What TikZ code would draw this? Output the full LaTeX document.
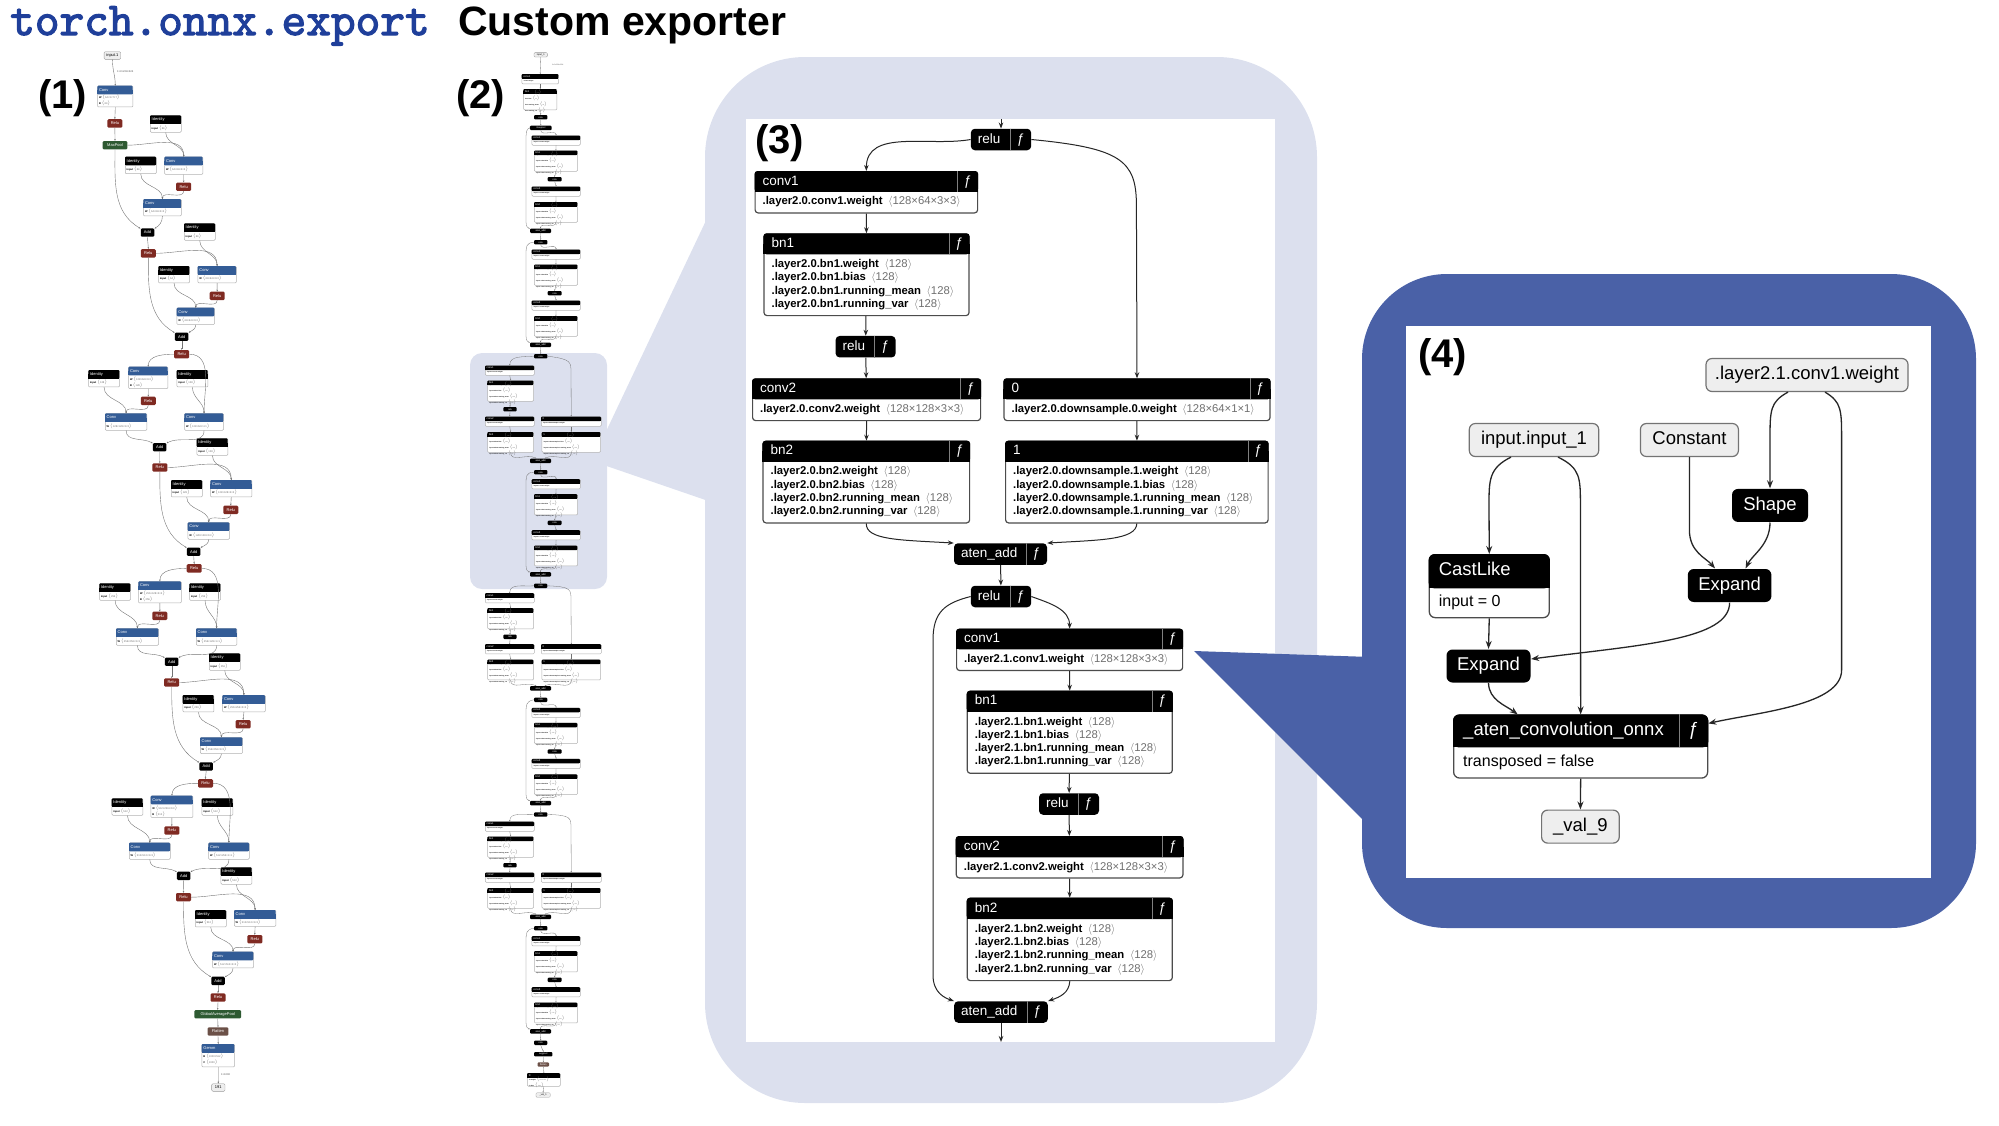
\documentclass[tikz,border=0pt]{standalone}
\usepackage{fontspec}
\setmainfont{Liberation Sans}
\newfontfamily\titlemono{lmmono10-regular.otf}[AutoFakeBold=2.5]
\usetikzlibrary{arrows.meta}
\definecolor{titleblue}{HTML}{1F3F9A}
\definecolor{callout}{HTML}{DCE0EE}
\definecolor{calloutblue}{HTML}{4A61A7}
\definecolor{onnxconv}{HTML}{335C96}
\definecolor{onnxrelu}{HTML}{7F2A22}
\definecolor{onnxpool}{HTML}{2E5A32}
\definecolor{onnxflat}{HTML}{6B5047}
\definecolor{shapegray}{HTML}{707070}
\definecolor{ingray}{HTML}{EEEEEE}
\newcommand{\shp}[1]{{\color{shapegray}\mdseries$\langle$#1$\rangle$}}
\newcommand{\wline}[2]{\textbf{#1}\enspace\shp{#2}}
\newcommand{\bnlines}[2]{\wline{#1.weight}{#2}\\\wline{#1.bias}{#2}\\\wline{#1.running\_mean}{#2}\\\wline{#1.running\_var}{#2}}
\def\hdrh{8.6}
\def\padx{8}
\def\hround{3pt}
% netron module: name, x, y, width, header h, body h, title, body
\newcommand{\netmod}[8]{%
  \node[modbody, minimum width=#4, minimum height=#5+#6, anchor=north west] (#1) at (#2,#3) {};
  \fill[black, rounded corners=\hround] (#1.north west) rectangle ([yshift=-#5]#1.north east);
  \fill[black] ([yshift=-#5/2]#1.north west) rectangle ([yshift=-#5]#1.north east);
  \node[modtitle, anchor=west] at ([xshift=\padx, yshift=-#5/2]#1.north west) {#7};
  \node[modtext, anchor=west] at ([xshift=\padx, yshift=-#5-#6/2]#1.north west) {#8};
}
% function cell: name, header h, cell width
\newcommand{\netfn}[3]{%
  \draw[fnline] ([xshift=-#3]#1.north east) -- ([xshift=-#3, yshift=-#2]#1.north east);
  \node[modtitle] at ([xshift=-#3/2, yshift=-#2/2]#1.north east) {ƒ};
}
% black op with function cell: name, x, y, width, title
\newcommand{\netop}[5]{%
  \node[opbox, minimum width=#4] (#1) at (#2,#3) {};
  \node[modtitle, anchor=west] at ([xshift=7]#1.west) {#5};
  \draw[fnline] ([xshift=-21]#1.north east) -- ([xshift=-21]#1.south east);
  \node[modtitle] at ([xshift=-10.5]#1.east) {ƒ};
}
% thumbnail node: name, x1, y1, x2, y2, header colour, title, body
\newcommand{\tnode}[8]{%
  \node[tbody, minimum width={(#4)-(#2)}, minimum height={(#5)-(#3)}, anchor=north west] (#1) at ({#2},{#3}) {};
  \fill[#6, rounded corners=1pt] ({#2},{#3}) rectangle ({#4},{#3+\hdrh});
  \fill[#6] ({#2},{#3+\hdrh/2}) rectangle ({#4},{#3+\hdrh});
  \node[ttitle, anchor=west] at ({#2+1.5},{#3+\hdrh/2}) {#7};
  \node[ttext, anchor=west] at ({#2+1.5},{(#3+\hdrh+#5)/2}) {#8};
}
% plain residual block of the custom graph: prev, prefix, top, layer, channels
\newcommand{\idblock}[5]{%
  \tnode{#2c1}{531.7}{#3+9.5}{580}{#3+19}{black}{conv1}{\textbf{.#4.conv1.weight}}
  \tnode{#2b1}{534}{#3+24.5}{577.3}{#3+45}{black}{bn1}{\bnlines{.#4.bn1}{#5}}
  \node[ppill, minimum width=14] (#2r) at (554.7,{#3+53.2}) {relu};
  \tnode{#2c2}{531.7}{#3+60.5}{580}{#3+70}{black}{conv2}{\textbf{.#4.conv2.weight}}
  \tnode{#2b2}{534}{#3+76}{577.3}{#3+96}{black}{bn2}{\bnlines{.#4.bn2}{#5}}
  \node[ppill, minimum width=21] (#2a) at (540.5,{#3+104.8}) {aten\_add};
  \node[ppill, minimum width=13.3] (#2o) at (540.7,{#3+116.2}) {relu};
  \foreach \p/\q in {#1/#2c1, #2c1/#2b1, #2b1/#2r, #2r/#2c2, #2c2/#2b2, #2b2/#2a, #2a/#2o}
    \draw[pedge] (\p) to[out=-90,in=90] (\q);
  \draw[pedge] (#1.west) .. controls (526,{#3+3}) and (526,{#3+6}) .. (526,{#3+16}) -- (526,{#3+96}) .. controls (526,{#3+101}) and (528,{#3+102}) .. (#2a.north west);
}
% downsample block of the custom graph: prev, prefix, top, layer, channels
\newcommand{\dsblock}[5]{%
  \tnode{#2c1}{485}{#3+9.5}{534}{#3+19}{black}{conv1}{\textbf{.#4.conv1.weight}}
  \tnode{#2b1}{487.3}{#3+24.5}{533.3}{#3+45}{black}{bn1}{\bnlines{.#4.bn1}{#5}}
  \node[ppill, minimum width=13.4] (#2r) at (510,{#3+53.2}) {relu};
  \tnode{#2c2}{485}{#3+60.5}{534}{#3+70}{black}{conv2}{\textbf{.#4.conv2.weight}}
  \tnode{#2b2}{487.3}{#3+76}{533.3}{#3+96}{black}{bn2}{\bnlines{.#4.bn2}{#5}}
  \tnode{#2d0}{541}{#3+60.5}{601}{#3+70}{black}{0}{\textbf{.#4.downsample.0.weight}}
  \tnode{#2d1}{541.7}{#3+76}{600.3}{#3+96}{black}{1}{\bnlines{.#4.downsample.1}{#5}}
  \node[ppill, minimum width=21] (#2a) at (540.5,{#3+104.8}) {aten\_add};
  \node[ppill, minimum width=13.3] (#2o) at (540.7,{#3+116.2}) {relu};
  \foreach \p/\q in {#2c1/#2b1, #2b1/#2r, #2r/#2c2, #2c2/#2b2, #2d0/#2d1, #2a/#2o}
    \draw[pedge] (\p) to[out=-90,in=90] (\q);
  \draw[pedge] (#1.west) to[out=185,in=90] (#2c1);
  \draw[pedge] (#1.east) .. controls (571,{#3+3}) and (571,{#3+6}) .. (571,{#3+16}) -- (#2d0.north);
  \draw[pedge] (#2b2) to[out=-90,in=150] (#2a);
  \draw[pedge] (#2d1) to[out=-90,in=30] (#2a);
}

\begin{document}
\begin{tikzpicture}[x=1pt, y=-1pt,
    arr/.style={draw=black!85, line width=1pt, -{Stealth[length=6pt,width=4.5pt]}},
    arrbig/.style={draw=black!85, line width=1.3pt, -{Stealth[length=8pt,width=6pt]}},
    tedge/.style={draw=black!55, line width=0.4pt, -{Stealth[length=1.8pt,width=1.5pt]}},
    pedge/.style={draw=black!55, line width=0.3pt, -{Stealth[length=1.3pt,width=1.1pt]}},
    modbody/.style={draw=black!70, line width=1.2pt, fill=white, rounded corners=3pt, inner sep=0pt},
    modtitle/.style={text=white, font=\fontsize{13.5}{13.5}\selectfont, inner sep=0pt, text height=9.5pt, text depth=2pt},
    modtext/.style={font=\fontsize{11.3}{13.3}\selectfont, align=left, inner sep=0pt},
    opbox/.style={fill=black, rounded corners=4pt, minimum height=21.5pt, inner sep=0pt},
    fnline/.style={draw=black!50, line width=0.8pt},
    tbody/.style={draw=black!30, line width=0.5pt, fill=white, rounded corners=1pt, inner sep=0pt},
    ttitle/.style={text=white, font=\fontsize{4}{4}\selectfont, inner sep=0pt, text height=3pt, text depth=0.8pt},
    ttext/.style={font=\fontsize{2.6}{3.4}\selectfont, align=left, inner sep=0pt},
    tpill/.style={rounded corners=1.2pt, minimum height=8.4pt, inner sep=0pt, text=white, font=\fontsize{4}{4}\selectfont},
    trelu/.style={tpill, fill=onnxrelu, minimum width=15pt},
    tadd/.style={tpill, fill=black, minimum width=13.5pt},
    tpool/.style={tpill, fill=onnxpool},
    tflat/.style={tpill, fill=onnxflat},
    tio/.style={tpill, fill=ingray, draw=black!40, line width=0.4pt, text=black, minimum height=7.6pt},
    ppill/.style={fill=black, rounded corners=1pt, minimum height=4.4pt, inner sep=0pt, text=white, font=\fontsize{2.4}{2.4}\selectfont},
    pio/.style={ppill, fill=ingray, draw=black!40, line width=0.3pt, text=black},
    elab/.style={font=\fontsize{2.6}{2.6}\selectfont, text=black!70, inner sep=0pt, anchor=west},
    plabel/.style={anchor=base west, inner sep=0pt, font=\bfseries\fontsize{40}{40}\selectfont},
    graypill/.style={draw=black!55, fill=ingray, rounded corners=6pt, line width=1.2pt, minimum height=33pt, inner sep=0pt, font=\fontsize{18.5}{18.5}\selectfont, text height=13.5pt, text depth=4pt},
    blackpill/.style={graypill, draw=none, fill=black, text=white}
  ]
  \useasboundingbox (0,0) rectangle (1999,1125);

  % callout (3) with its wedge, highlight in (2)
  \fill[callout] (592,461) -- (720,191) -- (720,505) -- cycle;
  \fill[callout, rounded corners=100pt] (705,57) rectangle (1317,1103);
  \fill[callout, rounded corners=12pt] (470,353) rectangle (607,589);
  \fill[white] (746,119) rectangle (1275,1042);

  % ---------- (1) torch.onnx.export graph ----------
  \node[tio, minimum width=16.7] (in1) at (112.4,55.5) {input.1};
  \node[elab] (lbin1) at (117,72) {1×3×224×224};
  \tnode{cv1}{97.3}{85.7}{132.7}{106.7}{onnxconv}{Conv}{\textbf{W}~\shp{64×3×7×7}\\\textbf{B}~\shp{64}}
  \node[tpool, minimum width=24.6] (mp) at (115,145.2) {MaxPool};
  \foreach \n/\x/\y in {r1/114.9/123.4, r2/183.7/186.7, r3/148.3/253.3, r4/217.2/295.9, r5/181.7/354.2,
      r6/148.3/400.9, r7/159.8/467.5, r8/230.8/509.9, r9/194.2/568.4, r10/159.8/615.9, r11/171.7/682.5,
      r12/243.2/724.2, r13/205.5/783.3, r14/171.8/830.5, r15/183.5/897.2, r16/254.8/939.2, r17/218/997.5}
    \node[trelu] (\n) at (\x,\y) {Relu};
  \foreach \n/\x/\y in {a1/147.5/232.5, a2/181.7/336.7, a3/159.7/447.2, a4/193.7/551.7,
      a5/171.7/661.7, a6/206.2/766.5, a7/183.7/875.9, a8/218/980.9}
    \node[tadd] (\n) at (\x,\y) {Add};
  \foreach \n/\x/\y/\s in {id1/150/115.3/64, id2/125/156.7/64, id3/184/223.3/64, id4/158.3/266/64,
      id5/88.3/370/128, id6/176.7/370/128, id7/196.7/438.3/128, id8/171/480/128,
      id9/99.3/583.3/256, id10/189.3/583.3/256, id11/209/653.3/256, id12/182.7/695/256,
      id13/111.7/798.3/512, id14/201.7/798.3/512, id15/220.7/867.3/512, id16/195/910/512}
    \tnode{\n}{\x}{\y}{\x+31}{\y+16.7}{black}{Identity}{\textbf{input}~\shp{\s}};
  \foreach \n/\xa/\ya/\xb/\yb/\s in {cv2/164.3/156.7/202.7/174/64×64×3×3, cv3/143.3/199/181/215.7/64×64×3×3,
      cv4/197.7/266/236/282.7/64×64×3×3, cv5/176.7/307.7/214.3/324.3/64×64×3×3,
      cv7/105/413.3/146.7/430/128×128×3×3, cv8/184.3/413.3/223.3/430/128×64×1×1,
      cv9/210.3/480/251.7/496.7/128×128×3×3, cv10/187.7/522.3/229.3/539/128×128×3×3,
      cv12/116/628.3/158.3/645/256×256×3×3, cv13/196/628.3/236.7/645/256×128×1×1,
      cv14/222.3/695/265/711.7/256×256×3×3, cv15/200/737.3/242.3/753.3/256×256×3×3,
      cv17/129/842.7/170/859/512×512×3×3, cv18/208.3/842.7/249/859/512×256×1×1,
      cv19/234/910/275.7/926/512×512×3×3, cv20/212.3/951.7/253.3/967.7/512×512×3×3}
    \tnode{\n}{\xa}{\ya}{\xb}{\yb}{onnxconv}{Conv}{\textbf{W}~\shp{\s}};
  \tnode{cv6}{128.3}{366.7}{167.7}{388.3}{onnxconv}{Conv}{\textbf{W}~\shp{128×64×3×3}\\\textbf{B}~\shp{128}}
  \tnode{cv11}{138.3}{581.3}{181}{602.7}{onnxconv}{Conv}{\textbf{W}~\shp{256×128×3×3}\\\textbf{B}~\shp{256}}
  \tnode{cv16}{150.7}{795.7}{192.7}{817.3}{onnxconv}{Conv}{\textbf{W}~\shp{512×256×3×3}\\\textbf{B}~\shp{512}}
  \node[tpool, minimum width=46.7] (gap) at (217.7,1014.2) {GlobalAveragePool};
  \node[tflat, minimum width=20.6] (fl) at (218,1031.5) {Flatten};
  \tnode{gemm}{201.7}{1044}{234.3}{1066.7}{onnxconv}{Gemm}{\textbf{B}~\shp{1000×512}\\\textbf{C}~\shp{1000}}
  \node[elab] (lbout1) at (221,1075) {1×1000};
  \node[tio, minimum width=13.3] (out1) at (218.3,1087.5) {191};
  \foreach \p/\q in {in1/cv1, cv1/r1, r1/mp, id1/cv2, cv2/r2, r2/cv3, id2/cv3, a1/r3, id3/cv4, cv4/r4,
      r4/cv5, id4/cv5, a2/r5, cv6/r6, r6/cv7, id5/cv7, id6/cv8, a3/r7, id7/cv9, cv9/r8, r8/cv10, id8/cv10,
      a4/r9, cv11/r10, r10/cv12, id9/cv12, id10/cv13, a5/r11, id11/cv14, cv14/r12, r12/cv15, id12/cv15,
      a6/r13, cv16/r14, r14/cv17, id13/cv17, id14/cv18, a7/r15, id15/cv19, cv19/r16, r16/cv20, id16/cv20,
      a8/r17, r17/gap, gap/fl, fl/gemm, gemm/out1}
    \draw[tedge] (\p) to[out=-90,in=90] (\q);
  \foreach \p/\q in {mp/cv2, r3/cv4, r5/cv8, r7/cv9, r9/cv13, r11/cv14, r13/cv18, r15/cv19}
    \draw[tedge] (\p) to[out=0,in=90] (\q);
  \foreach \p/\q in {r5/cv6, r9/cv11, r13/cv16}
    \draw[tedge] (\p) to[out=180,in=90] (\q);
  \foreach \p/\q in {mp/a1, r3/a2, cv7/a3, r7/a4, cv12/a5, r11/a6, cv17/a7, r15/a8}
    \draw[tedge] (\p) to[out=-90,in=150] (\q);
  \foreach \p/\q in {cv3/a1, cv5/a2, cv8/a3, cv10/a4, cv13/a5, cv15/a6, cv18/a7, cv20/a8}
    \draw[tedge] (\p) to[out=-90,in=30] (\q);

  % ---------- (2) custom exporter graph ----------
  \begin{scope}[ttitle/.style={text=white, font=\fontsize{2.6}{2.6}\selectfont, inner sep=0pt, text height=2pt, text depth=0.6pt},
      ttext/.style={font=\fontsize{1.5}{3.8}\selectfont, align=left, inner sep=0pt}]
    \def\hdrh{4.6}
    \node[pio, minimum width=13.3] (pin) at (540.7,54.8) {input\_1};
    \node[elab, font=\fontsize{1.8}{1.8}\selectfont] (lbpin) at (552,65) {1×3×224×224};
    \tnode{pc1}{521.7}{74}{558.3}{83.6}{black}{conv1}{\textbf{.conv1.weight}}
    \tnode{pb1}{523.3}{89}{556.7}{109.6}{black}{bn1}{\bnlines{.bn1}{64}}
    \node[ppill, minimum width=13.3] (pr1) at (540.7,117.2) {relu};
    \node[ppill, minimum width=21.7] (pmp) at (540.8,127.9) {maxpool};
    \foreach \p/\q in {pin/pc1, pc1/pb1, pb1/pr1, pr1/pmp}
      \draw[pedge] (\p) to[out=-90,in=90] (\q);
    \idblock{pmp}{pA}{126}{layer1.0}{64}
    \idblock{pAo}{pB}{240}{layer1.1}{64}
    \dsblock{pBo}{pC}{356}{layer2.0}{128}
    \idblock{pCo}{pD}{469.6}{layer2.1}{128}
    \dsblock{pDo}{pE}{583.6}{layer3.0}{256}
    \idblock{pEo}{pF}{698.3}{layer3.1}{256}
    \dsblock{pFo}{pG}{812}{layer4.0}{512}
    \idblock{pGo}{pH}{926.6}{layer4.1}{512}
    \node[ppill, minimum width=18.4] (pavg) at (543.2,1054.2) {avgpool};
    \node[ppill, fill=onnxflat, minimum width=11.4] (pfl) at (543.3,1064.5) {flatten};
    \tnode{pfc}{527.2}{1073}{560}{1086}{black}{fc}{\wline{.fc.weight}{1000×512}\\\wline{.fc.bias}{1000}}
    \node[pio, minimum width=14.4] (pout) at (543.1,1095) {\_val\_1};
    \foreach \p/\q in {pHo/pavg, pavg/pfl, pfl/pfc, pfc/pout}
      \draw[pedge] (\p) to[out=-90,in=90] (\q);
  \end{scope}

  % ---------- (3) detail of layer2 ----------
  \coordinate (in3) at (1001,119);
  \coordinate (out3) at (1001,1042);
  \netop{reluA}{1001}{139.5}{60.3}{relu}
  \netmod{convA}{754.5}{171}{222.5}{20.7}{20.6}{conv1}{\wline{.layer2.0.conv1.weight}{128×64×3×3}}
  \netfn{convA}{20.7}{20.7}
  \netmod{bnA}{763.4}{233.3}{205}{21}{60.7}{bn1}{\bnlines{.layer2.0.bn1}{128}}
  \netfn{bnA}{21}{20.7}
  \netop{reluB}{865.6}{346.7}{60}{relu}
  \netmod{convAA}{752}{378.3}{228}{21}{20.7}{conv2}{\wline{.layer2.0.conv2.weight}{128×128×3×3}}
  \netfn{convAA}{21}{20.7}
  \netmod{dsA}{1003.4}{378.3}{266}{21}{20.7}{0}{\wline{.layer2.0.downsample.0.weight}{128×64×1×1}}
  \netfn{dsA}{21}{20.7}
  \netmod{bnAA}{762.4}{440.7}{206.6}{21}{60.6}{bn2}{\bnlines{.layer2.0.bn2}{128}}
  \netfn{bnAA}{21}{20.7}
  \netmod{dsB}{1005}{440.7}{262.5}{21}{60.6}{1}{\bnlines{.layer2.0.downsample.1}{128}}
  \netfn{dsB}{21}{20.7}
  \netop{addA}{1000.5}{554}{93}{aten\_add}
  \netop{reluC}{1001}{596.5}{60.3}{relu}
  \netmod{convB}{956}{628.7}{226}{20.6}{20.6}{conv1}{\wline{.layer2.1.conv1.weight}{128×128×3×3}}
  \netfn{convB}{20.6}{20.7}
  \netmod{bnB}{966.7}{690.7}{205}{21}{61}{bn1}{\bnlines{.layer2.1.bn1}{128}}
  \netfn{bnB}{21}{20.7}
  \netop{reluD}{1069}{804}{60}{relu}
  \netmod{convBB}{955.7}{836}{226.6}{21.3}{20}{conv2}{\wline{.layer2.1.conv2.weight}{128×128×3×3}}
  \netfn{convBB}{21.3}{20.7}
  \netmod{bnBB}{966.7}{897.7}{205}{21.3}{61}{bn2}{\bnlines{.layer2.1.bn2}{128}}
  \netfn{bnBB}{21.3}{20.7}
  \netop{addB}{1001}{1012}{93.7}{aten\_add}

  \draw[arr] (in3) -- (reluA);
  \draw[arr] (reluA.west) to[out=190,in=90] (convA.north);
  \draw[arr] (reluA.east) .. controls (1120,148) and (1136.4,160) .. (1136.4,205) -- (dsA.north);
  \foreach \p/\q in {convA/bnA, bnA/reluB, reluB/convAA, convAA/bnAA, dsA/dsB, addA/reluC,
      convB/bnB, bnB/reluD, reluD/convBB, convBB/bnBB}
    \draw[arr] (\p) -- (\q);
  \draw[arr] (bnAA.south) .. controls (865.7,540) and (900,540) .. (addA.north west);
  \draw[arr] (dsB.south) .. controls (1136.2,540) and (1100,540) .. (addA.north east);
  \draw[arr] (reluC.east) to[out=-20,in=90] (convB.north);
  \draw[arr] (reluC.west) .. controls (945,603) and (933,612) .. (933,640) -- (933,975) .. controls (933,993) and (945,998) .. (addB.north west);
  \draw[arr] (bnBB.south) .. controls (1069,993) and (1060,997) .. (addB.north east);
  \draw[arr] (addB) -- (out3);

  % ---------- (4) detail of conv1 ----------
  \fill[calloutblue] (1194,651) -- (1400,658) -- (1400,857) -- cycle;
  \fill[calloutblue, rounded corners=85pt] (1362,274) rectangle (1976,928);
  \fill[white] (1406,325.6) rectangle (1931,877.7);
  \begin{scope}[modtitle/.style={text=white, font=\fontsize{18.5}{18.5}\selectfont, inner sep=0pt, text height=13.5pt, text depth=4pt},
      modtext/.style={font=\fontsize{16}{16}\selectfont, align=left, inner sep=0pt},
      modbody/.style={draw=black!70, line width=1.3pt, fill=white, rounded corners=6pt, inner sep=0pt}]
    \def\padx{10}
    \def\hround{6pt}
    \node[graypill, minimum width=202] (wgt) at (1807,375) {.layer2.1.conv1.weight};
    \node[graypill, minimum width=129.4] (inp) at (1534,440) {input.input\_1};
    \node[graypill, minimum width=98] (cst) at (1689.4,440) {Constant};
    \node[blackpill, minimum width=76] (shp) at (1770,505.4) {Shape};
    \netmod{cast}{1428.6}{554}{120}{34.4}{28.6}{CastLike}{input = 0}
    \node[blackpill, minimum width=83.6] (exr) at (1729.6,585.5) {Expand};
    \node[blackpill, minimum width=84] (exl) at (1488.5,666) {Expand};
    \netmod{conv4}{1453}{714.4}{254}{33}{30}{\_aten\_convolution\_onnx}{transposed = false}
    \netfn{conv4}{33}{29}
    \node[graypill, minimum width=77.6] (val) at (1580.4,826.6) {\_val\_9};

    \draw[arrbig] ([xshift=-23]inp.south) .. controls (1489,468) and (1489,480) .. (1489,505) -- (cast.north);
    \draw[arrbig] ([xshift=24]inp.south) .. controls (1580.4,468) and (1580.4,478) .. (1580.4,505) -- (conv4.north);
    \draw[arrbig] (cst.south) -- (1689.4,530) .. controls (1689.4,552) and (1706,558) .. ([xshift=-14.6]exr.north);
    \draw[arrbig] ([xshift=-19]wgt.south) .. controls (1770,402) and (1770,410) .. (1770,440) -- (shp.north);
    \draw[arrbig] (shp.south) .. controls (1770,545) and (1752,555) .. ([xshift=16]exr.north);
    \draw[arrbig] ([xshift=18]wgt.south) .. controls (1841.6,402) and (1841.6,410) .. (1841.6,440) -- (1841.6,670) .. controls (1841.6,705) and (1760,712) .. ([yshift=-9]conv4.north east);
    \draw[arrbig] (exr.south) .. controls (1729.6,640) and (1640,645) .. ([yshift=7]exl.east);
    \draw[arrbig] (cast.south) -- (exl.north);
    \draw[arrbig] (exl.south) .. controls (1489,700) and (1505,705) .. ([xshift=-63]conv4.north);
    \draw[arrbig] (conv4.south) -- (val.north);
  \end{scope}

  % ---------- titles and panel labels ----------
  \node[anchor=base west, inner sep=0pt, text=titleblue, font=\titlemono\bfseries\fontsize{47}{47}\selectfont] (ttorch) at (10,35) {torch.onnx.export};
  \node[anchor=base west, inner sep=0pt, font=\bfseries\fontsize{41}{41}\selectfont] (tcustom) at (458,35) {Custom exporter};
  \node[plabel] (lab1) at (38,108.6) {(1)};
  \node[plabel] (lab2) at (456,108.6) {(2)};
  \node[plabel] (lab3) at (755,153.6) {(3)};
  \node[plabel] (lab4) at (1418,367.6) {(4)};
\end{tikzpicture}
\end{document}
